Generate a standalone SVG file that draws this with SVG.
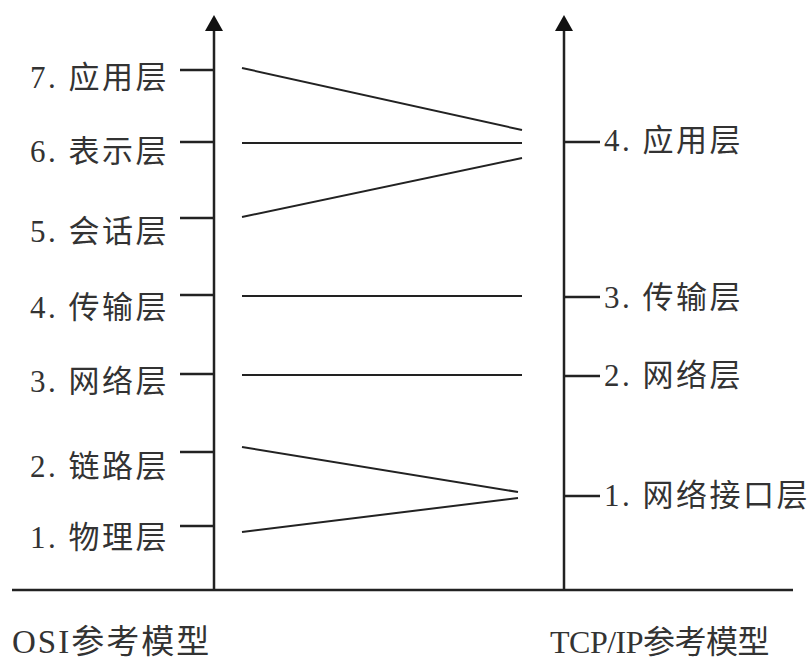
<svg xmlns="http://www.w3.org/2000/svg" width="812" height="662" viewBox="0 0 812 662">
<defs>
<style>
.ax{stroke:#222;stroke-width:2.5;fill:none}
.tk{stroke:#222;stroke-width:2.5;fill:none}
.ln{stroke:#222;stroke-width:2;fill:none}
text{font-family:"Liberation Serif","Noto Sans CJK SC",serif;font-size:31px;fill:#333;letter-spacing:2.5px}
.ttl{font-size:33px;letter-spacing:2px}
</style>
</defs>
<rect width="812" height="662" fill="#fff"/>
<g id="axes">
<line class="ax" x1="12" y1="590" x2="793" y2="590"/>
<line class="ax" x1="214" y1="590" x2="214" y2="30"/>
<path d="M205,31 L214,15 L223,31 Z" fill="#111"/>
<line class="ax" x1="564" y1="590" x2="564" y2="30"/>
<path d="M555,31 L564,15 L573,31 Z" fill="#111"/>
</g>
<g id="osi">
<g id="osi7"><line class="tk" x1="180" y1="70" x2="214" y2="70"/><text x="30" y="88">7. 应用层</text></g>
<g id="osi6"><line class="tk" x1="180" y1="142" x2="214" y2="142"/><text x="30" y="162">6. 表示层</text></g>
<g id="osi5"><line class="tk" x1="180" y1="218" x2="214" y2="218"/><text x="30" y="242">5. 会话层</text></g>
<g id="osi4"><line class="tk" x1="180" y1="295" x2="214" y2="295"/><text x="30" y="318">4. 传输层</text></g>
<g id="osi3"><line class="tk" x1="180" y1="374" x2="214" y2="374"/><text x="30" y="392">3. 网络层</text></g>
<g id="osi2"><line class="tk" x1="180" y1="452" x2="214" y2="452"/><text x="30" y="477">2. 链路层</text></g>
<g id="osi1"><line class="tk" x1="180" y1="526" x2="214" y2="526"/><text x="30" y="548">1. 物理层</text></g>
</g>
<g id="tcp">
<g id="tcp4"><line class="tk" x1="564" y1="142" x2="600" y2="142"/><text x="604" y="151">4. 应用层</text></g>
<g id="tcp3"><line class="tk" x1="564" y1="297" x2="600" y2="297"/><text x="604" y="308">3. 传输层</text></g>
<g id="tcp2"><line class="tk" x1="564" y1="376" x2="600" y2="376"/><text x="604" y="386">2. 网络层</text></g>
<g id="tcp1"><line class="tk" x1="564" y1="496" x2="600" y2="496"/><text x="604" y="506" letter-spacing="1">1. 网络接口层</text></g>
</g>
<g id="connectors">
<line class="ln" x1="242" y1="68" x2="522" y2="130"/>
<line class="ln" x1="242" y1="143" x2="522" y2="143"/>
<line class="ln" x1="242" y1="217" x2="522" y2="158"/>
<line class="ln" x1="242" y1="296" x2="522" y2="296"/>
<line class="ln" x1="242" y1="375" x2="522" y2="375"/>
<line class="ln" x1="242" y1="447" x2="518" y2="492"/>
<line class="ln" x1="242" y1="532" x2="518" y2="498"/>
</g>
<g id="titles">
<text class="ttl" x="12" y="653">OSI参考模型</text>
<text class="ttl" x="550" y="653" style="font-size:32px;letter-spacing:-0.5px">TCP/IP参考模型</text>
</g>
</svg>
